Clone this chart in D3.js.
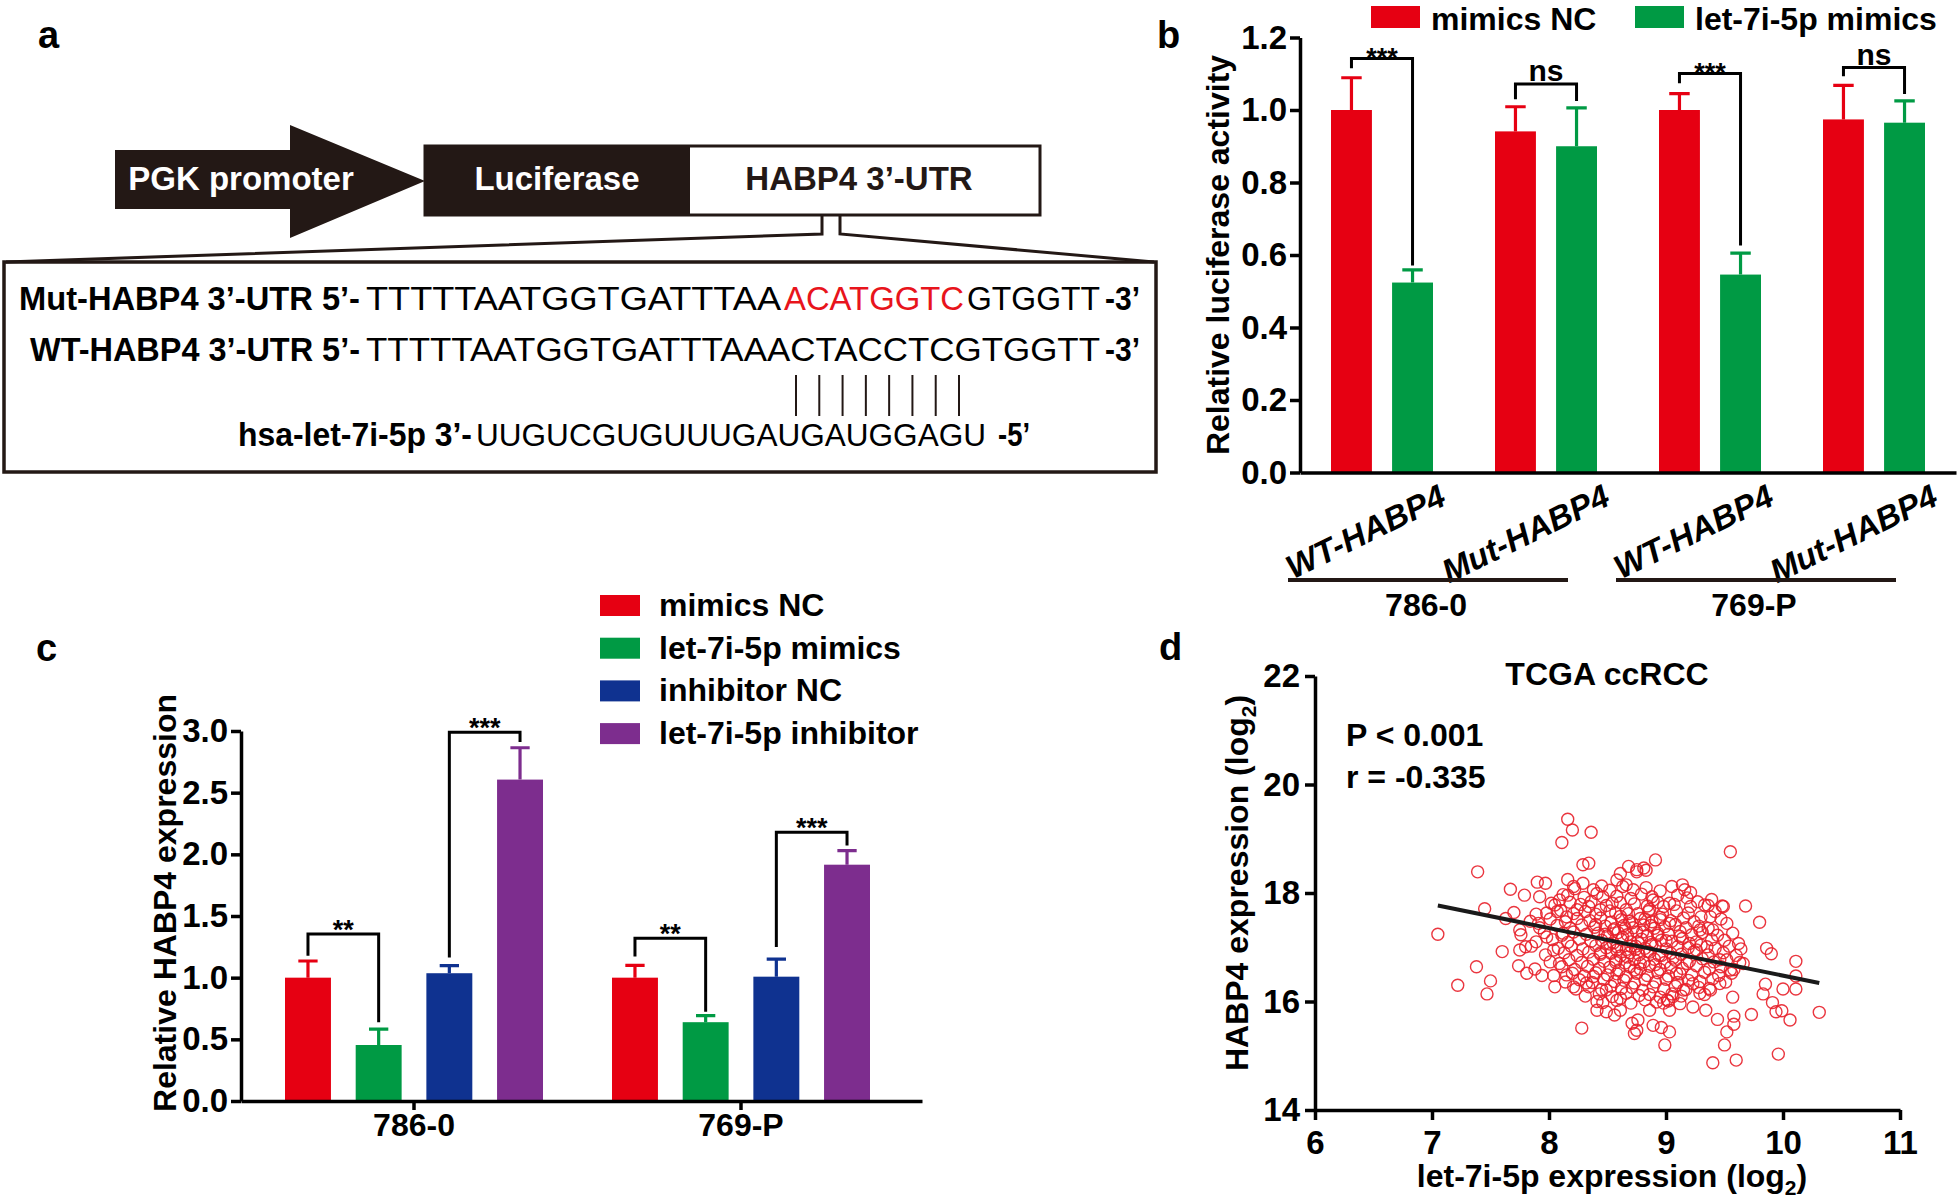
<!DOCTYPE html>
<html><head><meta charset="utf-8">
<script src="https://cdn.jsdelivr.net/npm/d3@7"></script>
<style>body{margin:0;background:#fff}svg{display:block}</style>
</head><body>
<script>
// ================= DATA =================
// Panel a : construct text
const seqLabels = ["Mut-HABP4 3’-UTR 5’-", "WT-HABP4 3’-UTR 5’-", "hsa-let-7i-5p 3’-"];
const mutSeq = ["TTTTTAATGGTGATTTAA", "ACATGGTC", "GTGGTT"];
const wtSeq = "TTTTTAATGGTGATTTAAACTACCTCGTGGTT";
const mirSeq = "UUGUCGUGUUUGAUGAUGGAGU";
const seqEnds = ["-3’", "-3’", "-5’"];
const constructParts = ["PGK promoter", "Luciferase", "HABP4 3’-UTR"];
const pairCount = 8;

// Panel b : luciferase reporter
const bGroups = ["WT786", "Mut786", "WT769", "Mut769"];
const bTickLabels = ["WT-HABP4", "Mut-HABP4", "WT-HABP4", "Mut-HABP4"];
const bCells = ["786-0", "769-P"];
const bSeries = ["mimics NC", "let-7i-5p mimics"];
const bMimicsNC = [1.0, 0.941, 1.0, 0.974];
const bMimicsNCErr = [0.089, 0.068, 0.045, 0.094];
const bMimics = [0.524, 0.900, 0.546, 0.965];
const bMimicsErr = [0.035, 0.106, 0.059, 0.060];
const bSig = ["***", "ns", "***", "ns"];
const bBrTop = [1.142, 1.072, 1.101, 1.117];
const bBrLeft = [1.115, 1.030, 1.074, 1.093];
const bBrRight = [0.571, 1.025, 0.626, 1.044];
const bYTicks = [0.0, 0.2, 0.4, 0.6, 0.8, 1.0, 1.2];

// Panel c : qPCR HABP4
const cCells = ["786-0", "769-P"];
const cSeries = ["mimics NC", "let-7i-5p mimics", "inhibitor NC", "let-7i-5p inhibitor"];
const cMimicsNC = [1.0, 1.0];
const cMimicsNCErr = [0.135, 0.10];
const cMimics = [0.454, 0.639];
const cMimicsErr = [0.128, 0.054];
const cInhNC = [1.036, 1.008];
const cInhNCErr = [0.062, 0.142];
const cInh = [2.606, 1.916];
const cInhErr = [0.258, 0.114];
// bracket: [cell, fromSeries, toSeries, top, leftEnd, rightEnd, label]
const cBrackets = [
  [0, 0, 1, 1.354, 1.178, 0.639, "**"],
  [0, 2, 3, 2.990, 1.164, 2.910, "***"],
  [1, 0, 1, 1.320, 1.172, 0.724, "**"],
  [1, 2, 3, 2.180, 1.249, 2.072, "***"]
];
const cYTicks = [0.0, 0.5, 1.0, 1.5, 2.0, 2.5, 3.0];

// Panel d : TCGA correlation
const dXTicks = [6, 7, 8, 9, 10, 11];
const dYTicks = [14, 16, 18, 20, 22];
const dStats = ["P < 0.001", "r = -0.335"];
const dFitX = [7.05, 10.31];
const dFitY = [17.77, 16.34];
const dPoints = [
[8.16,19.36],[8.20,19.16],[8.11,18.93],[8.36,19.12],[7.39,18.39],[7.67,18.07],[7.79,17.96],[7.90,18.20],[7.97,18.18],[8.16,18.25],
[8.29,18.52],[8.34,18.55],[7.45,17.71],[7.05,17.24],[7.60,16.92],[7.38,16.64],[7.22,16.30],[7.50,16.38],[7.47,16.14],[7.70,17.64],
[7.63,17.53],[7.75,17.32],[7.80,17.01],[7.75,16.95],[7.85,17.02],[7.74,16.66],[7.81,16.52],[7.94,16.48],[8.05,16.27],[7.89,17.61],
[7.91,17.44],[8.28,15.51],[8.41,16.00],[8.41,15.84],[8.49,15.81],[8.56,15.75],[8.61,15.84],[8.71,15.60],[8.73,15.41],[8.61,16.06],
[8.49,16.21],[8.38,16.46],[8.32,16.34],[8.21,16.27],[8.15,16.49],[8.09,16.70],[8.04,16.95],[7.98,17.19],[8.12,17.26],[8.09,17.87],
[8.16,17.96],[8.21,18.12],[8.29,18.18],[8.38,18.06],[8.46,17.93],[8.58,18.24],[8.61,18.36],[8.68,18.49],[8.75,18.43],[8.63,18.12],
[8.72,18.06],[8.54,17.81],[8.44,17.69],[8.34,17.75],[8.24,17.69],[8.15,17.56],[8.07,17.66],[8.02,17.81],[7.92,17.93],
[9.55,18.76],[8.91,18.61],[8.83,18.42],[8.75,18.39],[8.81,18.46],[9.14,18.15],[9.21,18.01],[9.16,18.06],[9.39,17.88],[9.48,17.76],
[9.68,17.76],[9.80,17.46],[9.86,16.98],[9.90,16.88],[10.11,16.74],[10.11,16.47],[10.11,16.23],[10.00,16.23],[9.85,16.32],[9.83,16.14],
[9.91,15.98],[9.94,15.81],[9.99,15.83],[10.06,15.66],[10.31,15.80],[9.73,15.76],[9.96,15.03],[9.60,14.92],[9.40,14.87],[9.50,15.20],
[9.52,15.44],[9.58,15.58],[9.58,15.73],[9.44,15.67],[9.34,15.84],[9.23,15.90],[9.57,16.08],[9.66,16.70],[9.62,17.07],[9.50,17.13],
[9.52,17.44],[9.49,17.75],[9.33,17.78],[9.38,17.56],[9.29,17.32],[9.35,17.01],[9.46,16.77],[9.55,16.58],[9.46,16.33],[9.38,16.21],
[9.29,16.15],[9.23,16.33],[9.15,16.21],[9.06,16.09],[8.98,15.97],[8.99,15.20],[9.03,15.44],[8.96,15.52],[8.89,15.56],[8.75,15.47],
[8.76,15.66],[8.86,15.84],[9.03,15.84],[9.01,16.03],[9.09,16.52],[9.18,16.70],[9.26,16.95],[9.20,17.07],[9.12,17.20],[9.03,17.44],
[8.98,17.75],[8.89,17.87],[9.03,17.81],[9.21,17.75],[9.30,17.56],[9.40,17.32],
[8.22,18.08],[8.45,18.13],[8.52,18.05],[8.66,18.15],[8.83,18.10],[8.95,18.04],[9.05,18.12],
[8.12,17.97],[8.30,17.92],[8.41,17.99],[8.58,17.94],[8.70,17.90],[8.79,17.98],[8.88,17.93],[9.10,17.96],[9.18,17.91],
[8.05,17.78],[8.18,17.83],[8.27,17.79],[8.36,17.84],[8.49,17.77],[8.61,17.82],[8.73,17.80],[8.84,17.76],[8.93,17.83],[9.07,17.79],[9.27,17.84],[9.36,17.77],
[7.98,17.63],[8.10,17.68],[8.21,17.62],[8.31,17.66],[8.40,17.61],[8.52,17.67],[8.57,17.63],[8.66,17.69],[8.76,17.62],[8.85,17.66],[8.97,17.61],[9.09,17.67],[9.19,17.63],[9.42,17.66],
[7.84,17.48],[8.01,17.52],[8.14,17.47],[8.24,17.53],[8.35,17.49],[8.44,17.54],[8.53,17.46],[8.62,17.51],[8.69,17.48],[8.78,17.53],[8.88,17.47],[8.95,17.51],[9.04,17.49],[9.15,17.54],[9.24,17.47],[9.47,17.52],
[7.92,17.36],[8.07,17.40],[8.18,17.35],[8.28,17.41],[8.39,17.37],[8.48,17.39],[8.56,17.34],[8.64,17.40],[8.72,17.36],[8.81,17.41],[8.90,17.35],[8.99,17.38],[9.08,17.42],[9.17,17.36],[9.28,17.39],[9.36,17.35],
[7.76,17.23],[7.96,17.27],[8.11,17.22],[8.21,17.28],[8.32,17.24],[8.42,17.26],[8.50,17.21],[8.59,17.27],[8.67,17.23],[8.75,17.28],[8.84,17.22],[8.93,17.26],[9.02,17.24],[9.12,17.29],[9.22,17.23],[9.31,17.27],[9.44,17.22],[9.57,17.26],
[7.89,17.10],[8.03,17.14],[8.16,17.09],[8.26,17.15],[8.36,17.11],[8.45,17.13],[8.55,17.08],[8.62,17.14],[8.70,17.10],[8.79,17.15],[8.87,17.09],[8.96,17.13],[9.05,17.11],[9.14,17.16],[9.26,17.10],[9.39,17.14],
[8.08,16.98],[8.19,17.02],[8.29,16.97],[8.40,17.03],[8.49,16.99],[8.58,17.01],[8.66,16.96],[8.74,17.02],[8.82,16.98],[8.91,17.03],[9.00,16.97],[9.10,17.01],[9.19,16.99],[9.30,17.04],[9.42,16.98],[9.54,17.02],[9.64,16.97],
[7.97,16.86],[8.13,16.90],[8.24,16.85],[8.34,16.91],[8.44,16.87],[8.53,16.89],[8.61,16.84],[8.69,16.90],[8.77,16.86],[8.86,16.91],[8.94,16.85],[9.04,16.89],[9.13,16.87],[9.24,16.92],[9.36,16.86],[9.49,16.90],[9.60,16.85],
[8.01,16.73],[8.17,16.77],[8.28,16.72],[8.38,16.78],[8.47,16.74],[8.57,16.76],[8.65,16.71],[8.73,16.77],[8.81,16.73],[8.90,16.78],[8.99,16.72],[9.08,16.76],[9.20,16.74],[9.31,16.79],[9.41,16.73],[9.52,16.77],[9.63,16.72],
[7.88,16.60],[8.11,16.64],[8.22,16.59],[8.33,16.65],[8.43,16.61],[8.52,16.63],[8.60,16.58],[8.69,16.64],[8.78,16.60],[8.86,16.65],[8.95,16.59],[9.04,16.63],[9.14,16.61],[9.26,16.66],[9.37,16.60],[9.47,16.64],[9.58,16.59],
[8.04,16.48],[8.20,16.52],[8.30,16.47],[8.40,16.53],[8.50,16.49],[8.58,16.51],[8.66,16.46],[8.75,16.52],[8.84,16.48],[8.93,16.53],[9.02,16.47],[9.12,16.51],[9.22,16.49],[9.33,16.54],[9.45,16.48],[9.56,16.52],
[8.14,16.36],[8.26,16.40],[8.37,16.35],[8.47,16.41],[8.56,16.37],[8.64,16.39],[8.73,16.34],[8.82,16.40],[8.91,16.36],[9.00,16.41],[9.10,16.35],[9.19,16.39],[9.29,16.37],[9.40,16.42],[9.51,16.36],
[8.23,16.23],[8.34,16.27],[8.45,16.22],[8.53,16.28],[8.62,16.24],[8.71,16.26],[8.80,16.21],[8.89,16.27],[8.98,16.23],[9.08,16.28],[9.17,16.22],[9.28,16.26],[9.37,16.24],
[8.31,16.10],[8.43,16.14],[8.54,16.09],[8.66,16.15],[8.77,16.11],[8.86,16.13],[8.95,16.08],[9.05,16.14],[9.13,16.10],[9.33,16.13],
[8.46,15.98],[8.58,16.02],[8.70,15.97],[8.82,16.03],[8.92,15.99],[9.02,16.01],[9.12,15.96],
[8.55,17.32],[8.63,17.18],[8.71,17.45],[8.80,17.28],[8.88,17.05],[8.58,16.95],[8.67,16.82],[8.76,17.10],[8.84,16.92],[8.93,17.22],
[8.52,17.06],[8.61,17.57],[8.70,17.02],[8.78,16.70],[8.87,17.40],[8.96,16.85],[8.48,17.24],[8.57,16.72],[8.65,17.35],[8.74,16.96],
[8.82,17.52],[8.91,16.68],[9.00,17.12],[8.44,16.90],[8.68,17.62],[8.86,17.70],[8.73,16.58],[8.95,17.55],[8.40,17.42],[9.06,16.80]
];

// ================= STYLE =================
const FONT = '"Liberation Sans", Arial, Helvetica, sans-serif';
const RED = "#e60012", GREEN = "#009a44", BLUE = "#0f3290", PURPLE = "#7d2d8e";
const INK = "#231815";
const AX = 3.5;

const svg = d3.select("body").append("svg").attr("width", 1960).attr("height", 1201)
  .style("background", "#fff").attr("font-family", FONT);

function txt(g, x, y, s, o = {}) {
  const t = g.append("text").attr("x", x).attr("y", y).text(s)
    .attr("font-size", o.size || 32).attr("font-weight", o.weight || "bold")
    .attr("fill", o.fill || "#000").attr("text-anchor", o.anchor || "start");
  if (o.len) t.attr("textLength", o.len).attr("lengthAdjust", "spacingAndGlyphs");
  if (o.style) t.attr("font-style", o.style);
  if (o.rot != null) t.attr("transform", `rotate(${o.rot},${x},${y})`);
  return t;
}
function styleAxis(g, size) {
  g.attr("font-family", FONT);
  g.select(".domain").attr("stroke", "#000").attr("stroke-width", AX);
  g.selectAll(".tick line").attr("stroke", "#000").attr("stroke-width", AX);
  g.selectAll(".tick text").attr("font-size", size).attr("font-weight", "bold").attr("fill", "#000");
}

// panel letters
txt(svg, 38, 48, "a", { size: 38 });
txt(svg, 1157, 48, "b", { size: 38 });
txt(svg, 36, 661, "c", { size: 38 });
txt(svg, 1159, 660, "d", { size: 38 });

// ================= PANEL A =================
const pa = svg.append("g");
pa.append("path").attr("fill", INK)
  .attr("d", "M115,150H290V125L425,181L290,238V209H115Z");
pa.append("rect").attr("x", 425).attr("y", 146).attr("width", 615).attr("height", 69)
  .attr("fill", "#fff").attr("stroke", INK).attr("stroke-width", 3);
pa.append("rect").attr("x", 425).attr("y", 146).attr("width", 265).attr("height", 69).attr("fill", INK);
txt(pa, 241, 190, constructParts[0], { size: 33, fill: "#fff", anchor: "middle" });
txt(pa, 557, 190, constructParts[1], { size: 33, fill: "#fff", anchor: "middle" });
txt(pa, 859, 190, constructParts[2], { size: 33, fill: INK, anchor: "middle" });
// connector
pa.append("path").attr("fill", "none").attr("stroke", INK).attr("stroke-width", 3)
  .attr("d", "M822,215V234L6,262M840,215V234L1154,262");
pa.append("rect").attr("x", 4).attr("y", 262).attr("width", 1152).attr("height", 210)
  .attr("fill", "none").attr("stroke", INK).attr("stroke-width", 3.5);
// sequences
txt(pa, 19, 310, seqLabels[0], { size: 33, len: 341 });
txt(pa, 366, 310, mutSeq[0], { size: 34, weight: "normal", len: 415 });
txt(pa, 784, 310, mutSeq[1], { size: 34, weight: "normal", len: 180, fill: "#e8141c" });
txt(pa, 967, 310, mutSeq[2], { size: 34, weight: "normal", len: 133 });
txt(pa, 1105, 310, seqEnds[0], { size: 33, len: 35 });
txt(pa, 30, 361, seqLabels[1], { size: 33, len: 330 });
txt(pa, 366, 361, wtSeq, { size: 34, weight: "normal", len: 734 });
txt(pa, 1105, 361, seqEnds[1], { size: 33, len: 35 });
txt(pa, 238, 446, seqLabels[2], { size: 33, len: 234 });
txt(pa, 476, 446, mirSeq, { size: 31.5, weight: "normal", len: 510 });
txt(pa, 998, 446, seqEnds[2], { size: 33, len: 32 });
const pairX = d3.scaleLinear().domain([0, pairCount - 1]).range([796, 959]);
pa.selectAll("line.pair").data(d3.range(pairCount)).join("line")
  .attr("x1", d => pairX(d)).attr("x2", d => pairX(d)).attr("y1", 375).attr("y2", 416)
  .attr("stroke", INK).attr("stroke-width", 2);

// ================= PANEL B =================
const pb = svg.append("g");
const yb = d3.scaleLinear().domain([0, 1.2]).range([472.5, 37.5]);
const xb = d3.scaleBand().domain(bGroups).range([1300, 1956]).padding(0);
const xbs = d3.scaleBand().domain(bSeries).range([31, 133]).paddingInner(0.33);
const bwb = xbs.bandwidth();
const bData = [];
bGroups.forEach((g, i) => {
  bData.push({ g, s: bSeries[0], v: bMimicsNC[i], e: bMimicsNCErr[i], c: RED });
  bData.push({ g, s: bSeries[1], v: bMimics[i], e: bMimicsErr[i], c: GREEN });
});
pb.selectAll("rect.bar").data(bData).join("rect")
  .attr("x", d => xb(d.g) + xbs(d.s)).attr("width", bwb)
  .attr("y", d => yb(d.v)).attr("height", d => yb(0) - yb(d.v)).attr("fill", d => d.c);
pb.selectAll("path.err").data(bData).join("path")
  .attr("fill", "none").attr("stroke", d => d.c).attr("stroke-width", 3.2)
  .attr("d", d => {
    const cx = xb(d.g) + xbs(d.s) + bwb / 2, cw = bwb * 0.5;
    return `M${cx},${yb(d.v)}V${yb(d.v + d.e)}M${cx - cw / 2},${yb(d.v + d.e)}H${cx + cw / 2}`;
  });
pb.append("g").attr("transform", "translate(1300,0)")
  .call(d3.axisLeft(yb).tickValues(bYTicks).tickFormat(d3.format(".1f")).tickSize(10).tickPadding(3).tickSizeOuter(0))
  .call(g => styleAxis(g, 33));
pb.append("g").attr("transform", `translate(0,${yb(0)})`)
  .call(d3.axisBottom(xb).tickValues([]).tickSizeOuter(0))
  .call(g => styleAxis(g, 33));
// brackets
bGroups.forEach((g, i) => {
  const xL = xb(g) + xbs(bSeries[0]) + bwb / 2, xR = xb(g) + xbs(bSeries[1]) + bwb / 2;
  pb.append("path").attr("fill", "none").attr("stroke", "#000").attr("stroke-width", 3)
    .attr("d", `M${xL},${yb(bBrLeft[i])}V${yb(bBrTop[i])}H${xR}V${yb(bBrRight[i])}`);
  if (bSig[i] === "ns") txt(pb, (xL + xR) / 2, yb(bBrTop[i]) - 3, bSig[i], { size: 30, anchor: "middle" });
  else txt(pb, (xL + xR) / 2, yb(bBrTop[i]) + 8.5, bSig[i], { size: 27, anchor: "middle" });
});
// x labels
bGroups.forEach((g, i) => {
  const cx = xb(g) + xb.bandwidth() / 2;
  txt(pb, cx + 66, 504, bTickLabels[i], { size: 33, anchor: "end", style: "italic", rot: -26 });
});
bCells.forEach((c, i) => {
  const g0 = bGroups[2 * i], g1 = bGroups[2 * i + 1];
  const mid = (xb(g0) + xb(g1) + xb.bandwidth()) / 2 - 36;
  pb.append("line").attr("x1", mid - 140).attr("x2", mid + 140).attr("y1", 580).attr("y2", 580)
    .attr("stroke", INK).attr("stroke-width", 4);
  txt(pb, mid - 2, 616, c, { size: 32, anchor: "middle" });
});
txt(pb, 1229, 255, "Relative luciferase activity", { size: 32, anchor: "middle", rot: -90 });
// legend
[[bSeries[0], RED, 1371], [bSeries[1], GREEN, 1635]].forEach(([s, c, x]) => {
  pb.append("rect").attr("x", x).attr("y", 6).attr("width", 49).attr("height", 22).attr("fill", c);
  txt(pb, x + 60, 30, s, { size: 32 });
});

// ================= PANEL C =================
const pc = svg.append("g");
const yc = d3.scaleLinear().domain([0, 3.0]).range([1101, 731]);
const xc = d3.scaleBand().domain(cCells).range([241, 922]).paddingInner(0).paddingOuter(0.0413);
const xcs = d3.scaleBand().domain(cSeries).range([-129, 129]).paddingInner(0.35);
const bwc = xcs.bandwidth();
const cColors = [RED, GREEN, BLUE, PURPLE];
const cVals = [cMimicsNC, cMimics, cInhNC, cInh];
const cErrs = [cMimicsNCErr, cMimicsErr, cInhNCErr, cInhErr];
const cData = [];
cCells.forEach((cell, i) => cSeries.forEach((s, j) =>
  cData.push({ cell, s, v: cVals[j][i], e: cErrs[j][i], c: cColors[j] })));
const cxc = cell => xc(cell) + xc.bandwidth() / 2 - 4;
pc.selectAll("rect.bar").data(cData).join("rect")
  .attr("x", d => cxc(d.cell) + xcs(d.s)).attr("width", bwc)
  .attr("y", d => yc(d.v)).attr("height", d => yc(0) - yc(d.v)).attr("fill", d => d.c);
pc.selectAll("path.err").data(cData).join("path")
  .attr("fill", "none").attr("stroke", d => d.c).attr("stroke-width", 3.2)
  .attr("d", d => {
    const cx = cxc(d.cell) + xcs(d.s) + bwc / 2, cw = bwc * 0.42;
    return `M${cx},${yc(d.v)}V${yc(d.v + d.e)}M${cx - cw / 2},${yc(d.v + d.e)}H${cx + cw / 2}`;
  });
pc.append("g").attr("transform", "translate(241,0)")
  .call(d3.axisLeft(yc).tickValues(cYTicks).tickFormat(d3.format(".1f")).tickSize(10).tickPadding(3).tickSizeOuter(0))
  .call(g => styleAxis(g, 33));
pc.append("g").attr("transform", `translate(-4,${yc(0)})`)
  .call(d3.axisBottom(xc).tickSize(9).tickSizeOuter(0).tickFormat(""))
  .call(g => g.select(".domain").attr("transform", "translate(4,0)"))
  .call(g => styleAxis(g, 33));
cCells.forEach(cell => txt(pc, cxc(cell), 1136, cell, { size: 32, anchor: "middle" }));
cBrackets.forEach(([ci, a, b, top, le, re, lab]) => {
  const base = cxc(cCells[ci]);
  const xL = base + xcs(cSeries[a]) + bwc / 2, xR = base + xcs(cSeries[b]) + bwc / 2;
  pc.append("path").attr("fill", "none").attr("stroke", "#000").attr("stroke-width", 3)
    .attr("d", `M${xL},${yc(le)}V${yc(top)}H${xR}V${yc(re)}`);
  txt(pc, (xL + xR) / 2, yc(top) + 5, lab, { size: 27, anchor: "middle" });
});
txt(pc, 176, 903, "Relative HABP4 expression", { size: 32, anchor: "middle", rot: -90 });
cSeries.forEach((s, j) => {
  const y = 616 + j * 42.7;
  pc.append("rect").attr("x", 600).attr("y", y - 21).attr("width", 40).attr("height", 21).attr("fill", cColors[j]);
  txt(pc, 659, y, s, { size: 32 });
});

// ================= PANEL D =================
const pd = svg.append("g");
const xd = d3.scaleLinear().domain([6, 11]).range([1315, 1900]);
const yd = d3.scaleLinear().domain([14, 22]).range([1110, 676]);
pd.selectAll("circle").data(dPoints).join("circle")
  .attr("cx", d => xd(d[0])).attr("cy", d => yd(d[1])).attr("r", 6)
  .attr("fill", "none").attr("stroke", "#e8202a").attr("stroke-width", 1.4).attr("stroke-opacity", 0.9);
pd.append("path").datum(d3.zip(dFitX, dFitY))
  .attr("d", d3.line().x(d => xd(d[0])).y(d => yd(d[1])))
  .attr("stroke", "#1a1a1a").attr("stroke-width", 4).attr("fill", "none");
pd.append("g").attr("transform", "translate(1315,0)")
  .call(d3.axisLeft(yd).tickValues(dYTicks).tickFormat(d3.format("d")).tickSize(10).tickPadding(5).tickSizeOuter(0))
  .call(g => styleAxis(g, 33));
pd.append("g").attr("transform", "translate(0,1110)")
  .call(d3.axisBottom(xd).tickValues(dXTicks).tickFormat(d3.format("d")).tickSize(10).tickPadding(11).tickSizeOuter(0))
  .call(g => styleAxis(g, 33));
txt(pd, 1607, 685, "TCGA ccRCC", { size: 32, anchor: "middle" });
txt(pd, 1346, 746, dStats[0], { size: 32 });
txt(pd, 1346, 788, dStats[1], { size: 32 });
const yl = txt(pd, 1248, 883, "", { size: 32, anchor: "middle", rot: -90 });
yl.append("tspan").text("HABP4 expression (log");
yl.append("tspan").text("2").attr("font-size", 21).attr("dy", 8);
yl.append("tspan").text(")").attr("dy", -8);
const xl = txt(pd, 1612, 1187, "", { size: 32, anchor: "middle" });
xl.append("tspan").text("let-7i-5p expression (log");
xl.append("tspan").text("2").attr("font-size", 21).attr("dy", 8);
xl.append("tspan").text(")").attr("dy", -8);
</script>
</body></html>
